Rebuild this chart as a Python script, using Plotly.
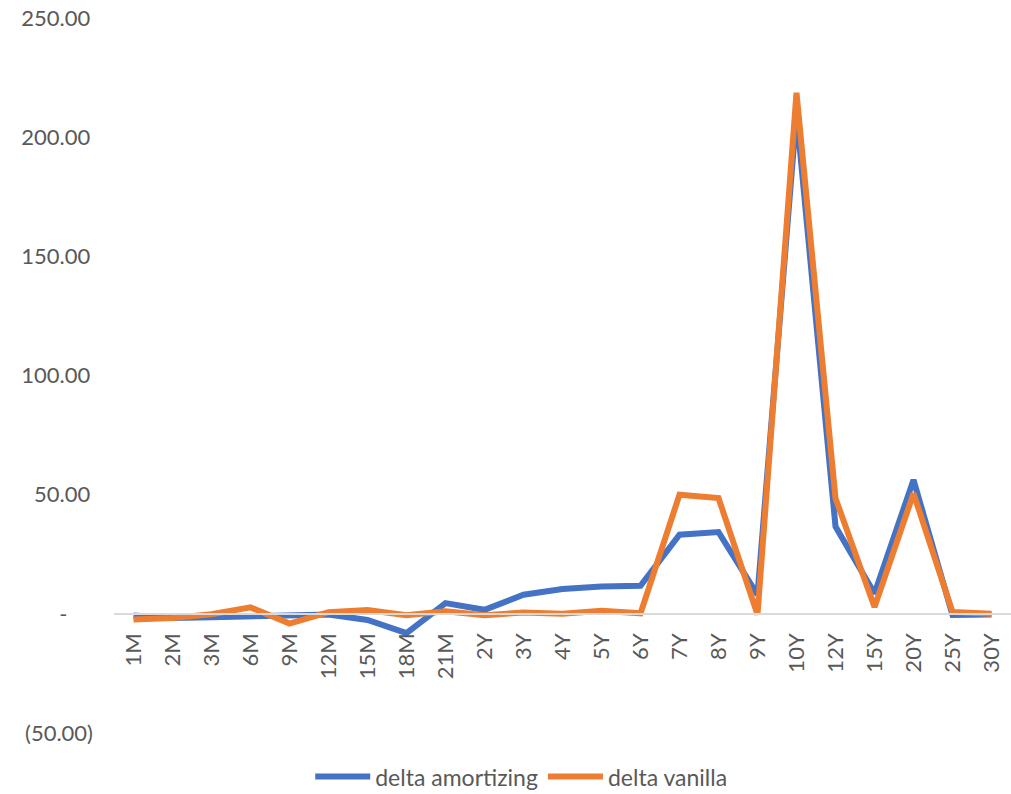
import plotly.graph_objects as go

# Tenor buckets along the curve
tenors = ["1M", "2M", "3M", "6M", "9M", "12M", "15M", "18M", "21M", "2Y", "3Y", "4Y",
          "5Y", "6Y", "7Y", "8Y", "9Y", "10Y", "12Y", "15Y", "20Y", "25Y", "30Y"]

# Bucketed deltas per tenor
delta_amortizing = [-0.7, -1.7, -1.4, -1.2, -0.5, -0.3, -2.6, -8.1, 4.5, 1.7, 8.0, 10.4,
                    11.5, 11.8, 33.2, 34.3, 8.0, 210.0, 36.6, 8.5, 56.2, -0.5, -0.3]
delta_vanilla = [-2.4, -1.7, -0.2, 2.7, -4.1, 0.7, 1.6, -0.6, 1.1, -0.6, 0.6, 0.0,
                 1.3, 0.2, 50.0, 48.6, -0.3, 218.6, 48.5, 2.9, 50.5, 0.8, 0.0]

# Value axis ticks in accounting style
y_ticks = [-50, 0, 50, 100, 150, 200, 250]
y_tick_text = ["(50.00)", "-\u2007\u2007", "50.00\u2009", "100.00\u2009", "150.00\u2009",
               "200.00\u2009", "250.00\u2009"]

FONT = "Lato, 'Open Sans', sans-serif"
GREY = "#595959"
FS = 22

fig = go.Figure()
fig.add_trace(go.Scatter(x=tenors, y=delta_amortizing, mode="lines", name="delta amortizing",
                         line=dict(color="#4472C4", width=6)))
fig.add_trace(go.Scatter(x=tenors, y=delta_vanilla, mode="lines", name="delta vanilla",
                         line=dict(color="#ED7D31", width=6)))

y_min, y_max = -50, 250
zero_pos = (0 - y_min) / (y_max - y_min)

fig.update_layout(
    width=1011, height=794,
    margin=dict(l=114, r=0, t=18, b=61, autoexpand=False),
    paper_bgcolor="white", plot_bgcolor="white",
    font=dict(family=FONT, color=GREY, size=FS),
    showlegend=True,
    legend=dict(orientation="h", x=0.454, xanchor="center", y=-0.061, yanchor="middle",
                font=dict(family=FONT, size=23, color=GREY), itemwidth=55,
                bgcolor="rgba(0,0,0,0)", traceorder="normal"),
    xaxis=dict(type="category", anchor="free", position=zero_pos, automargin=False,
               showline=True, linecolor="#d9d9d9", linewidth=1.5,
               showgrid=False, ticks="", tickangle=-90,
               tickfont=dict(family=FONT, size=FS, color=GREY),
               ticklabelstandoff=10, range=[-0.5, len(tenors) - 0.5]),
    yaxis=dict(range=[y_min, y_max], tickvals=y_ticks, ticktext=y_tick_text,
               automargin=False,
               showgrid=False, zeroline=False, showline=False, ticks="",
               tickfont=dict(family=FONT, size=FS, color=GREY),
               ticklabelstandoff=20),
)

fig.write_html("out.html")
